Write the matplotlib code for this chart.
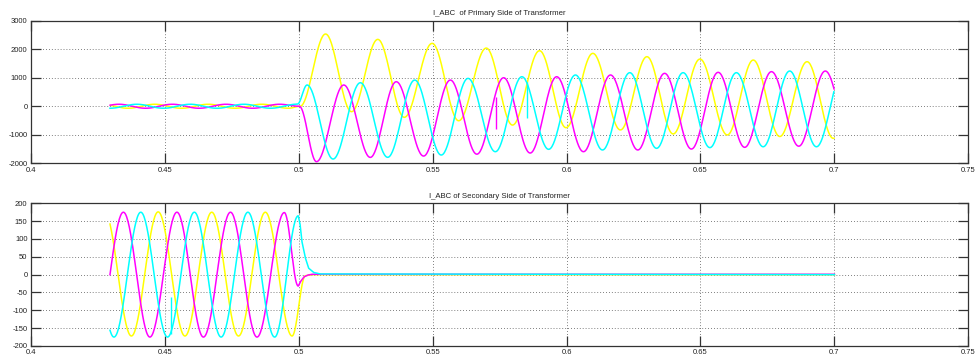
import numpy as np
import matplotlib
matplotlib.use("Agg")
import matplotlib.pyplot as plt

plt.rcParams['font.family'] = ['Liberation Sans', 'DejaVu Sans']

# time window of the recording
T_START = 0.4295
T_END = 0.70

# primary side: peaks / troughs of each phase current (time, value)
prim_yellow_t = [0.4262, 0.4362, 0.4462, 0.4562, 0.4662, 0.4762, 0.4862, 0.4962, 0.5005,
                 0.5100, 0.5197, 0.5295, 0.5394, 0.5498, 0.5597, 0.5700, 0.5798, 0.5899,
                 0.5998, 0.6098, 0.6201, 0.6300, 0.6398, 0.6498, 0.6600, 0.6697, 0.6796,
                 0.6898, 0.6996, 0.7096]
prim_yellow_v = [70, -70, 70, -70, 70, -70, 70, -70, 0,
                 2533, -190, 2345, -388, 2205, -508, 2040, -660, 1947,
                 -752, 1855, -830, 1738, -970, 1655, -1005, 1620, -1060,
                 1562, -1125, 1540]

prim_magenta_t = [0.4228, 0.4328, 0.4428, 0.4528, 0.4628, 0.4728, 0.4828, 0.4928, 0.5002,
                  0.5066, 0.5168, 0.5267, 0.5364, 0.5466, 0.5566, 0.5665, 0.5765, 0.5864,
                  0.5963, 0.6063, 0.6164, 0.6266, 0.6366, 0.6466, 0.6566, 0.6665, 0.6765,
                  0.6867, 0.6966, 0.7066]
prim_magenta_v = [-70, 70, -70, 70, -70, 70, -70, 70, 0,
                  -1943, 745, -1793, 860, -1746, 918, -1680, 1000, -1640,
                  1035, -1593, 1096, -1533, 1154, -1500, 1189, -1440, 1213,
                  -1400, 1235, -1380]

prim_cyan_t = [0.4195, 0.4295, 0.4395, 0.4495, 0.4595, 0.4695, 0.4795, 0.4895, 0.4995,
               0.5031, 0.5128, 0.5230, 0.5332, 0.5433, 0.5532, 0.5632, 0.5734, 0.5833,
               0.5933, 0.6033, 0.6134, 0.6236, 0.6336, 0.6435, 0.6535, 0.6634, 0.6734,
               0.6833, 0.6933, 0.7033]
prim_cyan_v = [70, -70, 70, -70, 70, -70, 70, -70, 75,
               745, -1850, 825, -1790, 918, -1710, 977, -1593, 1035,
               -1510, 1096, -1533, 1177, -1475, 1177, -1450, 1177, -1420,
               1235, -1420, 1235]

# short spikes in the primary record (time, from, to)
prim_spike_t = [0.5735, 0.5852]
prim_spike_lo = [-807, -421]
prim_spike_hi = [337, 863]
prim_spike_col = ['#ff00ff', '#00ffff']

# secondary side: peaks / troughs before the fault, then decay samples
sec_yellow_t = [0.4275, 0.4375, 0.4475, 0.4575, 0.4675, 0.4775, 0.4875, 0.4975, 0.5025]
sec_yellow_v = [175, -172, 176, -172, 175, -172, 175, -172, -3]
sec_yellow_tail_t = [0.5050, 0.7000]
sec_yellow_tail_v = [0, 0]

sec_magenta_t = [0.4245, 0.4345, 0.4444, 0.4545, 0.4644, 0.4745, 0.4844, 0.4946, 0.4998]
sec_magenta_v = [-175, 175, -175, 175, -175, 175, -175, 174, -32]
sec_magenta_tail_t = [0.5008, 0.5020, 0.5035, 0.5050, 0.7000]
sec_magenta_tail_v = [-18, -6, -1, 1, 1]

sec_cyan_t = [0.4210, 0.4310, 0.4410, 0.4510, 0.4610, 0.4710, 0.4810, 0.4910, 0.4998]
sec_cyan_v = [175, -175, 175, -175, 175, -175, 175, -175, 165]
sec_cyan_tail_t = [0.5005, 0.5012, 0.5025, 0.5037, 0.5056, 0.5080, 0.7000]
sec_cyan_tail_v = [140, 92, 46, 18, 6, 2, 0]

sec_spike_t = [0.4523]
sec_spike_lo = [-165]
sec_spike_hi = [-62]
sec_spike_col = ['#00ffff']

x_ticks = [0.4, 0.45, 0.5, 0.55, 0.6, 0.65, 0.7, 0.75]
x_labels = ['0.4', '0.45', '0.5', '0.55', '0.6', '0.65', '0.7', '0.75']
prim_y_ticks = [-2000, -1000, 0, 1000, 2000, 3000]
prim_y_labels = ['-2000', '-1000', '0', '1000', '2000', '3000']
sec_y_ticks = [-200, -150, -100, -50, 0, 50, 100, 150, 200]
sec_y_labels = ['-200', '-150', '-100', '-50', '0', '50', '100', '150', '200']

COLORS = {'yellow': '#ffff00', 'magenta': '#ff00ff', 'cyan': '#00ffff'}


def trace(kt, kv, tail_t=None, tail_v=None, n=40):
    # join the read peaks with half-cosine swings
    ts, vs = [], []
    for i in range(len(kt) - 1):
        s = np.linspace(0, 1, n, endpoint=False)
        ts.append(kt[i] + s * (kt[i + 1] - kt[i]))
        vs.append(kv[i] + (kv[i + 1] - kv[i]) * (1 - np.cos(np.pi * s)) / 2)
    ts.append([kt[-1]])
    vs.append([kv[-1]])
    if tail_t is not None:
        ts.append(tail_t)
        vs.append(tail_v)
    t = np.concatenate(ts)
    v = np.concatenate(vs)
    keep = (t >= T_START) & (t <= T_END)
    return t[keep], v[keep]


def style(ax, yticks, ylabels, ylim, title):
    ax.set_xlim(0.4, 0.75)
    ax.set_ylim(*ylim)
    ax.set_xticks(x_ticks)
    ax.set_xticklabels(x_labels)
    ax.set_yticks(yticks)
    ax.set_yticklabels(ylabels)
    ax.tick_params(direction='in', length=7, width=0.9, color='#333333',
                   top=True, right=True, labelsize=5.5, labelcolor='#222222', pad=2.5)
    ax.grid(True, linestyle=(0, (1, 2.5)), color='#555555', linewidth=0.6)
    for sp in ax.spines.values():
        sp.set_color('#333333')
        sp.set_linewidth(0.9)
    ax.set_title(title, fontsize=5.6, color='#222222', pad=4)


fig = plt.figure(figsize=(9.77, 3.6), dpi=100)
ax1 = fig.add_axes([0.0317, 0.5464, 0.9594, 0.3961])
ax2 = fig.add_axes([0.0317, 0.0389, 0.9594, 0.3964])

for kt, kv, c in [(prim_yellow_t, prim_yellow_v, 'yellow'),
                  (prim_magenta_t, prim_magenta_v, 'magenta'),
                  (prim_cyan_t, prim_cyan_v, 'cyan')]:
    t, v = trace(kt, kv)
    ax1.plot(t, v, color=COLORS[c], lw=1.1)
ax1.vlines(prim_spike_t, prim_spike_lo, prim_spike_hi, colors=prim_spike_col, lw=1.0)

for kt, kv, tt, tv, c in [(sec_yellow_t, sec_yellow_v, sec_yellow_tail_t, sec_yellow_tail_v, 'yellow'),
                          (sec_magenta_t, sec_magenta_v, sec_magenta_tail_t, sec_magenta_tail_v, 'magenta'),
                          (sec_cyan_t, sec_cyan_v, sec_cyan_tail_t, sec_cyan_tail_v, 'cyan')]:
    t, v = trace(kt, kv, tt, tv)
    ax2.plot(t, v, color=COLORS[c], lw=1.1)
ax2.vlines(sec_spike_t, sec_spike_lo, sec_spike_hi, colors=sec_spike_col, lw=1.0)

style(ax1, prim_y_ticks, prim_y_labels, (-2000, 3000), 'I_ABC  of Primary Side of Transformer')
style(ax2, sec_y_ticks, sec_y_labels, (-200, 200), 'I_ABC of Secondary Side of Transformer')

fig.savefig('out.png', dpi=100, facecolor='white')
